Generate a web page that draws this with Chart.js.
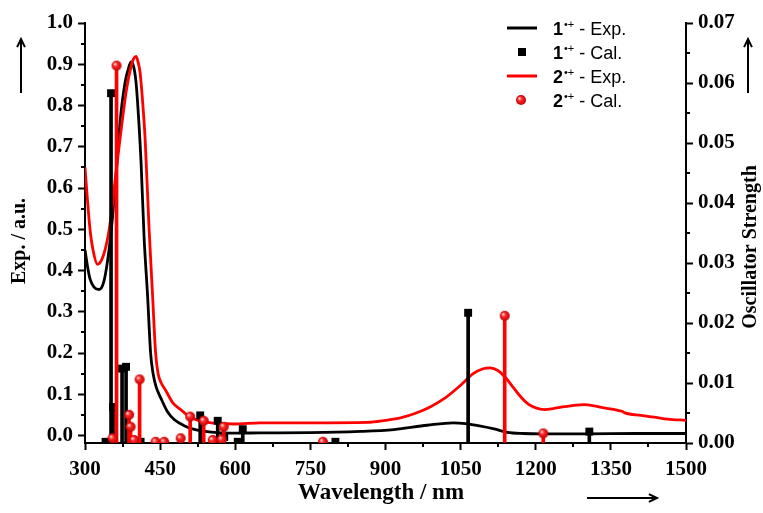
<!DOCTYPE html>
<html>
<head>
<meta charset="utf-8">
<script src="https://cdn.jsdelivr.net/npm/chart.js@4.4.1/dist/chart.umd.min.js"></script>
<style>
    html, body { margin: 0; padding: 0; background: #fff; }
    canvas { display: block; }
</style>
</head>
<body>
<canvas id="spectra" width="763" height="513"></canvas>
<script>
// Experimental spectra (left axis)
const exp1Wavelength = [300, 305, 310, 318, 328, 338, 348, 355, 362, 370, 380, 388, 392, 397, 402, 407, 412, 418, 425, 431, 436, 442, 451, 465, 478, 498, 518, 540, 565, 600, 650, 750, 850, 917, 983, 1035, 1060, 1085, 1117, 1143, 1175, 1210, 1300, 1400, 1500];
const exp1Value = [0.45, 0.41, 0.38, 0.36, 0.354, 0.375, 0.45, 0.53, 0.63, 0.76, 0.856, 0.895, 0.906, 0.895, 0.855, 0.77, 0.66, 0.48, 0.338, 0.2, 0.15, 0.118, 0.092, 0.057, 0.039, 0.024, 0.015, 0.01, 0.007, 0.006, 0.0065, 0.007, 0.01, 0.0146, 0.025, 0.031, 0.029, 0.024, 0.016, 0.008, 0.005, 0.004, 0.004, 0.005, 0.005];

const exp2Wavelength = [300, 305, 310, 316, 325, 333, 340, 347, 355, 362, 370, 383, 392, 397, 402, 406, 410, 415, 420, 428, 435, 441, 446, 452, 461, 475, 491, 510, 531, 560, 598, 650, 750, 864, 900, 930, 960, 990, 1020, 1050, 1075, 1095, 1109, 1125, 1140, 1155, 1170, 1185, 1200, 1217, 1237, 1257, 1280, 1297, 1317, 1337, 1360, 1372, 1378, 1410, 1440, 1463, 1500];
const exp2Value = [0.65, 0.57, 0.5, 0.45, 0.415, 0.425, 0.45, 0.49, 0.56, 0.64, 0.72, 0.84, 0.895, 0.913, 0.919, 0.905, 0.88, 0.81, 0.72, 0.5, 0.338, 0.2, 0.15, 0.128, 0.11, 0.08, 0.063, 0.045, 0.035, 0.03, 0.028, 0.031, 0.031, 0.032, 0.037, 0.043, 0.054, 0.07, 0.092, 0.122, 0.15, 0.162, 0.164, 0.157, 0.14, 0.117, 0.094, 0.076, 0.067, 0.063, 0.066, 0.07, 0.074, 0.075, 0.072, 0.067, 0.062, 0.059, 0.055, 0.049, 0.044, 0.04, 0.037];

// Calculated transitions (right axis)
const cal1Wavelength = [341, 352, 356, 374, 382, 411, 530, 565, 578, 605, 615, 800, 1065, 1307];
const cal1Strength = [0.0002, 0.0583, 0.006, 0.0124, 0.0127, 0.0002, 0.0046, 0.0037, 0.001, 0.0002, 0.0023, 0.0002, 0.0217, 0.0019];

const cal2Wavelength = [355, 363, 388, 391, 398, 409, 441, 458, 491, 510, 537, 555, 573, 577, 775, 1138, 1215];
const cal2Strength = [0.0008, 0.0629, 0.0047, 0.0027, 0.0005, 0.0106, 0.0002, 0.0002, 0.0008, 0.0044, 0.0037, 0.0005, 0.0006, 0.0027, 0.0002, 0.0212, 0.0016];

// Axis ticks
const xTicks = [300, 450, 600, 750, 900, 1050, 1200, 1350, 1500];
const leftTicks = [0.0, 0.1, 0.2, 0.3, 0.4, 0.5, 0.6, 0.7, 0.8, 0.9, 1.0];
const rightTicks = [0.00, 0.01, 0.02, 0.03, 0.04, 0.05, 0.06, 0.07];

// Legend
const legendCompound = ['1', '1', '2', '2'];
const legendKind = ['Exp.', 'Cal.', 'Exp.', 'Cal.'];

const RED = '#ff0000';
const BLACK = '#000000';
const SERIF = '"Liberation Serif", "Times New Roman", serif';
const SANS = '"Liberation Sans", Arial, sans-serif';

function pairs(xs, ys) {
    return xs.map((x, i) => ({ x: x, y: ys[i] }));
}

// shaded red ball used as the point style
function makeBall(r) {
    const c = document.createElement('canvas');
    const s = Math.ceil(2 * r + 2);
    c.width = s;
    c.height = s;
    const g = c.getContext('2d');
    const grad = g.createRadialGradient(s / 2 - r * 0.35, s / 2 - r * 0.35, r * 0.1, s / 2, s / 2, r);
    grad.addColorStop(0, '#ffd6d6');
    grad.addColorStop(0.35, '#ff2a2a');
    grad.addColorStop(1, '#c00000');
    g.fillStyle = grad;
    g.beginPath();
    g.arc(s / 2, s / 2, r, 0, Math.PI * 2);
    g.fill();
    return c;
}

const ball = makeBall(5);

function drawArrow(ctx, x1, y1, x2, y2) {
    const a = Math.atan2(y2 - y1, x2 - x1);
    const h = 9;
    ctx.beginPath();
    ctx.moveTo(x1, y1);
    ctx.lineTo(x2, y2);
    ctx.moveTo(x2 - h * Math.cos(a - 0.45), y2 - h * Math.sin(a - 0.45));
    ctx.lineTo(x2, y2);
    ctx.lineTo(x2 - h * Math.cos(a + 0.45), y2 - h * Math.sin(a + 0.45));
    ctx.stroke();
}

// minor ticks, axis titles, arrows and legend
const decorPlugin = {
    id: 'decor',
    afterDraw(chart) {
        const ctx = chart.ctx;
        const area = chart.chartArea;
        const sx = chart.scales.x, sy = chart.scales.y, sy2 = chart.scales.y2;
        ctx.save();
        ctx.strokeStyle = BLACK;
        ctx.fillStyle = BLACK;
        ctx.lineWidth = 2;

        // minor ticks halfway between majors
        ctx.beginPath();
        for (let i = 0; i < xTicks.length - 1; i++) {
            const px = Math.round(sx.getPixelForValue((xTicks[i] + xTicks[i + 1]) / 2));
            ctx.moveTo(px, area.bottom);
            ctx.lineTo(px, area.bottom + 4);
        }
        for (let i = 0; i < leftTicks.length - 1; i++) {
            const py = Math.round(sy.getPixelForValue((leftTicks[i] + leftTicks[i + 1]) / 2));
            ctx.moveTo(area.left - 4, py);
            ctx.lineTo(area.left, py);
        }
        for (let i = 0; i < rightTicks.length - 1; i++) {
            const py = Math.round(sy2.getPixelForValue((rightTicks[i] + rightTicks[i + 1]) / 2));
            ctx.moveTo(area.right, py);
            ctx.lineTo(area.right + 4, py);
        }
        ctx.stroke();

        // axis titles
        ctx.textAlign = 'center';
        ctx.textBaseline = 'middle';
        ctx.font = 'bold 23px ' + SERIF;
        ctx.fillText('Wavelength / nm', 381, 493);
        ctx.font = 'bold 20px ' + SERIF;
        ctx.save();
        ctx.translate(20, 241);
        ctx.rotate(-Math.PI / 2);
        ctx.fillText('Exp. / a.u.', 0, 0);
        ctx.restore();
        ctx.save();
        ctx.translate(751, 247);
        ctx.rotate(-Math.PI / 2);
        ctx.fillText('Oscillator Strength', 0, 0);
        ctx.restore();

        // direction arrows
        drawArrow(ctx, 21, 93, 21, 39);
        drawArrow(ctx, 748, 93, 748, 39);
        drawArrow(ctx, 587, 498, 657, 498);

        // legend
        const rowY = [28, 52, 76, 100];
        const symbolDataset = [5, 2, 4, 0];
        ctx.textAlign = 'left';
        ctx.textBaseline = 'alphabetic';
        legendCompound.forEach((num, i) => {
            const cy = rowY[i];
            const ds = chart.data.datasets[symbolDataset[i]];
            if (legendKind[i] === 'Exp.') {
                ctx.strokeStyle = ds.borderColor;
                ctx.lineWidth = 3;
                ctx.beginPath();
                ctx.moveTo(507, cy);
                ctx.lineTo(537, cy);
                ctx.stroke();
            } else if (ds.pointStyle === 'rect') {
                ctx.fillStyle = ds.backgroundColor;
                ctx.fillRect(518, cy - 4, 8, 8);
            } else {
                ctx.drawImage(ds.pointStyle, 521 - ds.pointStyle.width / 2, cy - ds.pointStyle.height / 2);
            }
            ctx.fillStyle = BLACK;
            let x = 553;
            const base = cy + 6.5;
            ctx.font = 'bold 18px ' + SANS;
            ctx.fillText(num, x, base);
            x += ctx.measureText(num).width;
            ctx.font = '11px ' + SANS;
            ctx.fillText('\u2022+', x + 1, base - 7);
            x += ctx.measureText('\u2022+').width + 1;
            ctx.font = '18px ' + SANS;
            ctx.fillText(' - ' + legendKind[i], x, base);
        });
        ctx.restore();
    }
};

const tickFont = { family: SERIF, size: 21, weight: 'bold' };

new Chart(document.getElementById('spectra').getContext('2d'), {
    type: 'scatter',
    data: {
        datasets: [{
            label: '2\u2022+ - Cal.',
            data: pairs(cal2Wavelength, cal2Strength),
            yAxisID: 'y2',
            pointStyle: ball,
            pointRadius: 5,
            showLine: false
        }, {
            type: 'bar',
            data: pairs(cal2Wavelength, cal2Strength),
            yAxisID: 'y2',
            backgroundColor: RED,
            barThickness: 3,
            grouped: false
        }, {
            label: '1\u2022+ - Cal.',
            data: pairs(cal1Wavelength, cal1Strength),
            yAxisID: 'y2',
            pointStyle: 'rect',
            pointRadius: 5.6,
            backgroundColor: BLACK,
            borderWidth: 0,
            showLine: false
        }, {
            type: 'bar',
            data: pairs(cal1Wavelength, cal1Strength),
            yAxisID: 'y2',
            backgroundColor: BLACK,
            barThickness: 3,
            grouped: false
        }, {
            type: 'line',
            label: '2\u2022+ - Exp.',
            data: pairs(exp2Wavelength, exp2Value),
            yAxisID: 'y',
            borderColor: RED,
            borderWidth: 2.8,
            pointRadius: 0,
            cubicInterpolationMode: 'monotone',
            fill: false
        }, {
            type: 'line',
            label: '1\u2022+ - Exp.',
            data: pairs(exp1Wavelength, exp1Value),
            yAxisID: 'y',
            borderColor: BLACK,
            borderWidth: 2.8,
            pointRadius: 0,
            cubicInterpolationMode: 'monotone',
            fill: false
        }]
    },
    options: {
        responsive: false,
        animation: false,
        layout: { padding: { top: 23, left: 0, right: 0, bottom: 0 } },
        plugins: {
            legend: { display: false },
            tooltip: { enabled: false }
        },
        scales: {
            x: {
                type: 'linear',
                min: 300,
                max: 1500,
                offset: false,
                afterBuildTicks: s => { s.ticks = xTicks.map(v => ({ value: v })); },
                afterFit: s => { s.height = 70; },
                border: { color: BLACK, width: 2 },
                grid: { drawOnChartArea: false, tickLength: 7, tickWidth: 2, tickColor: BLACK, offset: false },
                ticks: { font: tickFont, color: BLACK, padding: 7, maxRotation: 0, autoSkip: false, callback: v => String(v) }
            },
            y: {
                position: 'left',
                min: -0.018,
                max: 1.0,
                afterBuildTicks: s => { s.ticks = leftTicks.map(v => ({ value: v })); },
                afterFit: s => { s.width = 85; },
                border: { color: BLACK, width: 2 },
                grid: { drawOnChartArea: false, tickLength: 7, tickWidth: 2, tickColor: BLACK },
                ticks: { font: tickFont, color: BLACK, padding: 5, callback: v => v.toFixed(1) }
            },
            y2: {
                position: 'right',
                min: 0,
                max: 0.07,
                afterBuildTicks: s => { s.ticks = rightTicks.map(v => ({ value: v })); },
                afterFit: s => { s.width = 77; },
                border: { color: BLACK, width: 2 },
                grid: { drawOnChartArea: false, tickLength: 7, tickWidth: 2, tickColor: BLACK },
                ticks: { font: tickFont, color: BLACK, padding: 5, callback: v => v.toFixed(2) }
            }
        }
    },
    plugins: [decorPlugin]
});
</script>
</body>
</html>
